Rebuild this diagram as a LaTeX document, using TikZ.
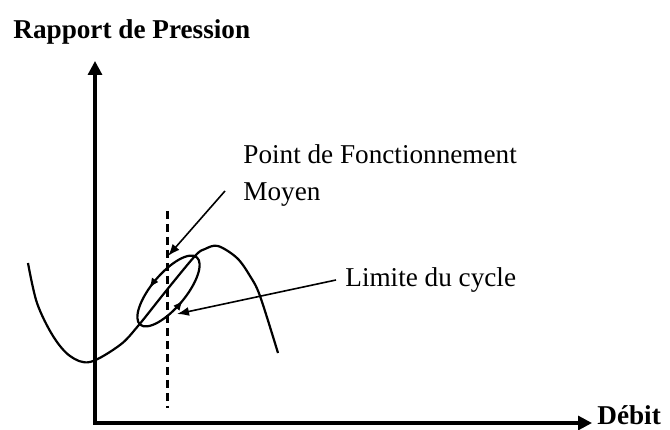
\documentclass[tikz,border=0pt]{standalone}
\usepackage{fontspec}
\setmainfont{Liberation Serif}
\usetikzlibrary{arrows.meta,decorations.markings}

\begin{document}
\begin{tikzpicture}[x=5pt, y=5pt,
  lbl/.style={font=\fontsize{13.6}{16}\selectfont, inner sep=0pt, anchor=base west},
  lblgras/.style={lbl, font=\fontsize{13.6}{16}\selectfont\bfseries},
  axe/.style={line width=1.6pt, {Triangle[length=7pt,width=7pt]}-{Triangle[length=7pt,width=7pt]}},
  fleche/.style={line width=0.8pt, -{Latex[length=6pt,width=4.5pt]}},
  courbe/.style={line width=1.1pt, line join=round}]
\useasboundingbox (-9.5,-0.6) rectangle (57.5,42.3);
\coordinate (O) at (0,0);
\coordinate (ymax) at (0,36.2);
\coordinate (xmax) at (49.7,0);
\draw[axe] (ymax) -- (O) -- (xmax);
\node[lblgras] (rp) at (-8.2,38.4) {Rapport de Pression};
\node[lblgras] (debit) at (50.2,-0.2) {Débit};
\coordinate (dh) at (7.2,21.2);
\coordinate (db) at (7.2,1.5);
\draw[line width=1.5pt, dash pattern=on 4pt off 2.5pt] (dh) -- (db);
\draw[courbe] plot[smooth, tension=0.55] coordinates {(-6.7,16.0) (-5.8,12.0) (-4.2,8.7) (-2.5,6.7) (-0.5,6.1) (2.5,7.8) (4.3,9.7) (7.1,13.2) (10.0,16.7) (11.0,17.4) (12.3,17.7) (14.2,16.5) (15.5,14.7) (16.5,12.7) (18.3,7.0)};
\draw[courbe, rotate around={50:(7.35,13.2)}, postaction={decorate},
  decoration={markings,
    mark=at position 0.3 with {\arrow{Latex[length=5pt,width=4pt]}},
    mark=at position 0.76 with {\arrow{Latex[length=5pt,width=4pt]}}}]
  (7.35,13.2) ellipse (4.4 and 1.7);
\node[lbl] (pfa) at (14.8,25.9) {Point de Fonctionnement};
\node[lbl] (pfb) at (14.8,22.2) {Moyen};
\node[lbl] (lim) at (25.0,13.6) {Limite du cycle};
\coordinate (pm) at (7.3,16.7);
\coordinate (lc) at (8.2,10.9);
\draw[fleche] ([xshift=-9pt,yshift=5pt]pfb.base west) -- (pm);
\draw[fleche] ([xshift=-4.5pt,yshift=3.5pt]lim.base west) -- (lc);
\end{tikzpicture}
\end{document}
